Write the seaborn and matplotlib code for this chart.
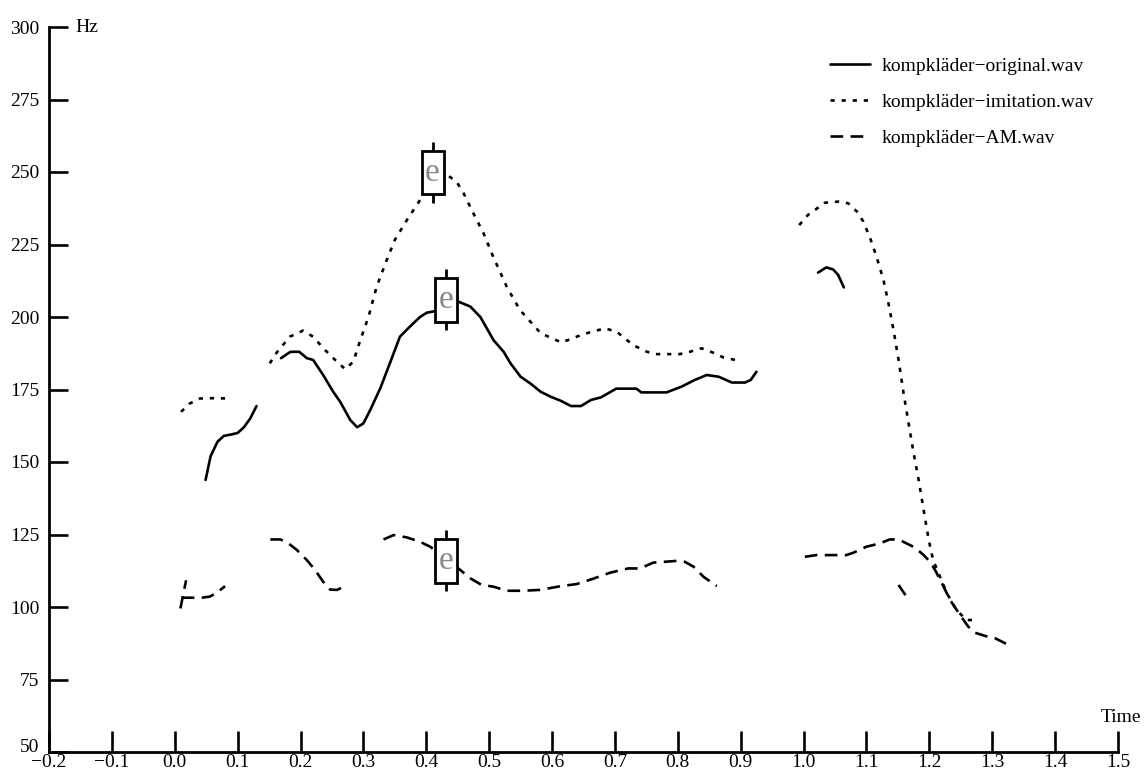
import pandas as pd
import matplotlib
matplotlib.use('Agg')
import matplotlib.pyplot as plt
from matplotlib.patches import Rectangle
import seaborn as sns

# ── Data: pitch tracks (time in s, pitch in Hz), one list per voiced segment ──
files = ['kompkläder\u2212original.wav', 'kompkläder\u2212imitation.wav', 'kompkläder\u2212AM.wav']

orig_t = [
    [0.049, 0.057, 0.068, 0.078, 0.09, 0.1, 0.11, 0.12, 0.13],
    [0.169, 0.184, 0.198, 0.21, 0.22, 0.236, 0.252, 0.263, 0.279, 0.29, 0.3, 0.311,
     0.327, 0.342, 0.358, 0.374, 0.39, 0.401, 0.414, 0.43, 0.451, 0.47, 0.486, 0.507,
     0.523, 0.534, 0.55, 0.566, 0.582, 0.598, 0.614, 0.63, 0.646, 0.662, 0.678, 0.702,
     0.734, 0.742, 0.782, 0.806, 0.827, 0.846, 0.865, 0.886, 0.907, 0.916, 0.925],
    [1.023, 1.036, 1.047, 1.055, 1.064],
]
orig_hz = [
    [143.8, 152, 157, 159, 159.5, 160, 162, 165, 169.3],
    [185.8, 188, 188, 185.8, 185.2, 180, 174.2, 170.8, 164.5, 162, 163.3, 168,
     175.5, 184, 193.2, 196.7, 200, 201.5, 202, 204, 205.3, 203.6, 200, 192,
     188, 184, 179.4, 177, 174.2, 172.5, 171.1, 169.3, 169.3, 171.4, 172.3, 175.3,
     175.3, 174, 174, 176, 178.3, 180, 179.4, 177.4, 177.4, 178.3, 181.1],
    [215.3, 217.1, 216.4, 214.5, 210.2],
]

imit_t = [
    [0.01, 0.024, 0.04, 0.06, 0.085],
    [0.151, 0.162, 0.183, 0.204, 0.22, 0.239, 0.255, 0.271, 0.284, 0.295, 0.308, 0.321,
     0.335, 0.35, 0.369, 0.39, 0.41, 0.433, 0.448, 0.459, 0.475, 0.491, 0.507, 0.528,
     0.549, 0.582, 0.615, 0.65, 0.684, 0.703, 0.729, 0.751, 0.767, 0.803, 0.819, 0.838,
     0.856, 0.872, 0.891],
    [0.993, 1.007, 1.034, 1.055, 1.071, 1.085, 1.095, 1.106, 1.116, 1.127, 1.135, 1.143,
     1.151, 1.159, 1.167, 1.175, 1.183, 1.191, 1.199, 1.206, 1.217, 1.228, 1.243, 1.259,
     1.271],
]
imit_hz = [
    [167.3, 170.2, 171.9, 172, 171.9],
    [184, 187.7, 193.2, 195.3, 193.2, 188.6, 185.2, 182, 184.6, 192, 200, 210.4,
     218.5, 226.6, 233.4, 240.3, 246, 249, 246.7, 242.8, 235.7, 228.9, 220.5, 210.4,
     202.4, 194.4, 191.2, 194.1, 196.1, 194.9, 190.3, 188, 187.2, 187.2, 188, 189.2,
     187.7, 186.1, 185.2],
    [231.7, 235.2, 239.4, 239.8, 239.2, 236.3, 232.9, 227.1, 220.8, 212.8, 204.7, 195.5,
     185.2, 173.7, 163.3, 153, 143.8, 133.4, 123.1, 116.2, 110.4, 104.7, 99, 95.5,
     95.5],
]

am_t = [
    [0.009, 0.018],
    [0.011, 0.03, 0.043, 0.056, 0.069, 0.08],
    [0.152, 0.168, 0.181, 0.194, 0.21, 0.223, 0.236, 0.247, 0.258, 0.271],
    [0.332, 0.348, 0.369, 0.39, 0.406, 0.43, 0.451, 0.47, 0.488, 0.507, 0.528, 0.554,
     0.581, 0.614, 0.639, 0.666, 0.692, 0.721, 0.74, 0.761, 0.798, 0.811, 0.825, 0.841,
     0.862],
    [1.002, 1.02, 1.068, 1.079, 1.1, 1.121, 1.137, 1.151, 1.164, 1.177, 1.191, 1.201,
     1.209, 1.22, 1.233, 1.249, 1.262, 1.273, 1.289, 1.305, 1.323],
    [1.151, 1.162],
]
am_hz = [
    [99.5, 109.2],
    [103.2, 103.2, 103.2, 103.6, 105.3, 107.2],
    [123.3, 123.3, 121.9, 119.7, 116.2, 112.8, 108.7, 106, 105.9, 107.2],
    [123.3, 124.8, 124, 122.5, 120.8, 117, 113.3, 109.9, 107.6, 107, 105.6, 105.6,
     105.9, 107.2, 107.9, 109.8, 111.8, 113.3, 113.3, 115.3, 115.9, 115.6, 113.9, 110.4,
     107.2],
    [117.3, 117.9, 117.9, 118.7, 120.8, 121.9, 123.3, 123.3, 121.9, 120.5, 117.9, 115.6,
     112.8, 108.2, 102.4, 97.2, 93.2, 91.1, 90, 89.2, 87.2],
    [107.6, 104.1],
]

# interval tier marks ("e" boxes)
mark_t = [0.41, 0.431, 0.431]
mark_hz = [249.9, 205.9, 115.9]
mark_text = ['e', 'e', 'e']

x_ticks = [round(-0.2 + 0.1 * i, 1) for i in range(18)]
y_ticks = [50, 75, 100, 125, 150, 175, 200, 225, 250, 275, 300]

# ── long table ──
rows = []
for name, ts, hs in zip(files, [orig_t, imit_t, am_t], [orig_hz, imit_hz, am_hz]):
    for k, (tt, hh) in enumerate(zip(ts, hs)):
        for a, b in zip(tt, hh):
            rows.append({'file': name, 'seg': f'{name}-{k}', 'time': a, 'hz': b})
df = pd.DataFrame(rows)

sns.set_style('ticks')
plt.rcParams['font.family'] = ['Liberation Serif', 'DejaVu Serif']
plt.rcParams['axes.edgecolor'] = 'black'
plt.rcParams['xtick.color'] = 'black'
plt.rcParams['ytick.color'] = 'black'
plt.rcParams['text.color'] = 'black'

FS = 14

fig = plt.figure(figsize=(11.44, 7.7), dpi=100)
ax = fig.add_axes([49 / 1144, 18 / 770, (1118 - 49) / 1144, (752 - 27) / 770])

dash_map = {files[0]: '', files[1]: (1.6, 2.6), files[2]: (4.8, 2.8)}
sns.lineplot(data=df, x='time', y='hz', hue='file', style='file', units='seg',
             estimator=None, sort=False, palette=['black'] * 3, dashes=dash_map,
             linewidth=1.9, ax=ax)

# boxes with the "e" labels
bw, bh, wh = 0.035, 15, 10.5
for t, h, s in zip(mark_t, mark_hz, mark_text):
    ax.add_patch(Rectangle((t - bw / 2, h - bh / 2), bw, bh, facecolor='white',
                           edgecolor='black', linewidth=2, zorder=4))
    ax.vlines(t, h + bh / 2, h + wh, color='black', linewidth=2, zorder=4)
    ax.vlines(t, h - wh, h - bh / 2, color='black', linewidth=2, zorder=4)
    ax.text(t, h, s, color='#8a8a8a', fontsize=24, ha='center', va='center', zorder=5)

ax.set_xlim(-0.2, 1.5)
ax.set_ylim(50, 300)
ax.set_xticks(x_ticks)
ax.set_xticklabels([f'{v:.1f}'.replace('-', '\u2212') for v in x_ticks])
ax.set_yticks(y_ticks)
ax.set_xlabel('')
ax.set_ylabel('')
sns.despine(ax=ax)
for sp in ['left', 'bottom']:
    ax.spines[sp].set_linewidth(2)
    ax.spines[sp].set_color('black')
ax.tick_params(axis='y', direction='in', length=13.5, width=1.9, labelsize=FS, pad=7)
ax.tick_params(axis='x', direction='in', length=15, width=1.9, labelsize=FS, pad=1.5)
# lowest y label sits on the axis line, above the x labels
ax.get_yticklabels()[0].set_verticalalignment('baseline')

ax.annotate('Hz', xy=(0, 1), xycoords='axes fraction', xytext=(19, 0),
            textcoords='offset points', ha='left', va='center', fontsize=FS)
ax.annotate('Time', xy=(1, 0), xycoords='axes fraction', xytext=(17, 25),
            textcoords='offset points', ha='right', va='center', fontsize=FS)

h, l = ax.get_legend_handles_labels()
ax.legend(h, l, frameon=False, loc='upper left', bbox_to_anchor=(830 / 1144, 1 - 57 / 770),
          bbox_transform=fig.transFigure, borderpad=0, borderaxespad=0,
          handlelength=2.05, handletextpad=0.6, labelspacing=0.95, fontsize=FS)

fig.savefig('out.png', dpi=100)
